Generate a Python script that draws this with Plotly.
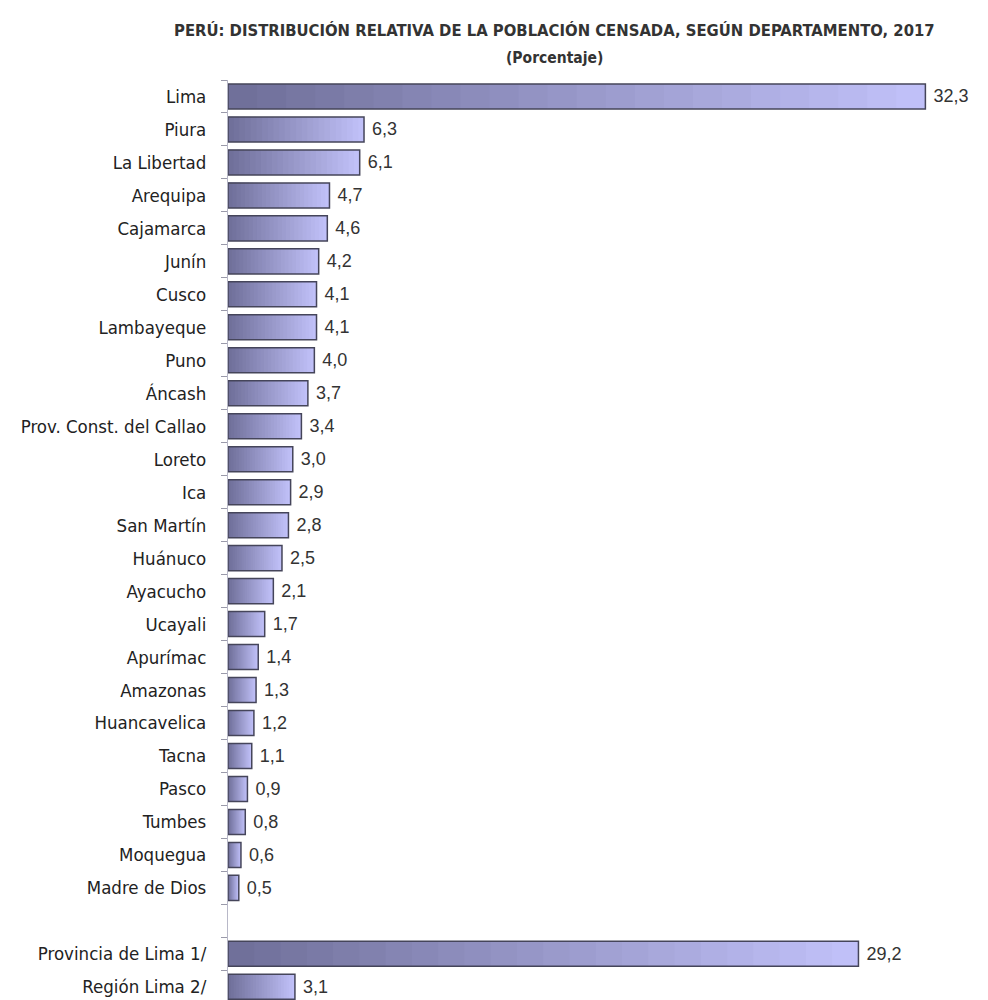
import plotly.graph_objects as go

departamentos = ["Lima", "Piura", "La Libertad", "Arequipa", "Cajamarca", "Junín", "Cusco",
                 "Lambayeque", "Puno", "Áncash", "Prov. Const. del Callao", "Loreto", "Ica",
                 "San Martín", "Huánuco", "Ayacucho", "Ucayali", "Apurímac", "Amazonas",
                 "Huancavelica", "Tacna", "Pasco", "Tumbes", "Moquegua", "Madre de Dios",
                 " ", "Provincia de Lima 1/", "Región Lima 2/"]
porcentajes = [32.3, 6.3, 6.1, 4.7, 4.6, 4.2, 4.1, 4.1, 4.0, 3.7, 3.4, 3.0, 2.9, 2.8, 2.5,
               2.1, 1.7, 1.4, 1.3, 1.2, 1.1, 0.9, 0.8, 0.6, 0.5, None, 29.2, 3.1]

titulo = "PERÚ: DISTRIBUCIÓN RELATIVA DE LA POBLACIÓN CENSADA, SEGÚN DEPARTAMENTO, 2017"
subtitulo = "(Porcentaje)"

FONT = "Liberation Sans Narrow, DejaVu Sans Condensed, Liberation Sans, Arial, sans-serif"
VFONT = "Liberation Sans, Arial, sans-serif"

dark = (110, 110, 152)
light = (194, 194, 250)
N = 24

fig = go.Figure()
for k in range(N, 0, -1):
    t = (k - 0.5) / N
    c = tuple(round(dark[i] + (light[i] - dark[i]) * t) for i in range(3))
    fig.add_trace(go.Bar(
        y=departamentos,
        x=[None if v is None else v * k / N for v in porcentajes],
        orientation="h",
        marker=dict(color="rgb(%d,%d,%d)" % c, line=dict(width=0)),
        hoverinfo="skip",
        showlegend=False,
    ))

fig.add_trace(go.Bar(
    y=departamentos,
    x=porcentajes,
    orientation="h",
    marker=dict(color="rgba(0,0,0,0)", line=dict(color="#45455a", width=1.5)),
    text=[None if v is None else "\u00a0" + ("%.1f" % v).replace(".", ",") for v in porcentajes],
    textposition="outside",
    textfont=dict(family=VFONT, size=18, color="#333333"),
    cliponaxis=False,
    hoverinfo="skip",
    showlegend=False,
))

fig.update_layout(
    width=980, height=992,
    barmode="overlay",
    bargap=0.24,
    plot_bgcolor="white",
    paper_bgcolor="white",
    margin=dict(l=220, r=0, t=72, b=0, autoexpand=False),
    separators=",.",
    font=dict(family=FONT, color="#222222"),
    annotations=[
        dict(text="<b>" + titulo + "</b>", xref="paper", yref="paper", x=0.43, y=1,
             yshift=50, xanchor="center", yanchor="middle", showarrow=False,
             font=dict(family=FONT, size=16.5, color="#333333")),
        dict(text="<b>" + subtitulo + "</b>", xref="paper", yref="paper", x=0.43, y=1,
             yshift=22, xanchor="center", yanchor="middle", showarrow=False,
             font=dict(family=FONT, size=15.5, color="#333333")),
    ],
)
fig.update_xaxes(range=[0, 35.2], visible=False, showgrid=False, zeroline=False,
                 automargin=False)
fig.update_yaxes(
    type="category",
    categoryorder="array", categoryarray=departamentos,
    range=[27.4, -0.5],
    automargin=False,
    showline=True, linecolor="#b8b8c8", linewidth=1,
    ticks="outside", tickson="boundaries", ticklen=6, tickcolor="#9a9aaa",
    ticklabelstandoff=17,
    tickfont=dict(family=FONT, size=18.5, color="#222222"),
    showgrid=False, zeroline=False,
)

fig.write_html("out.html")
